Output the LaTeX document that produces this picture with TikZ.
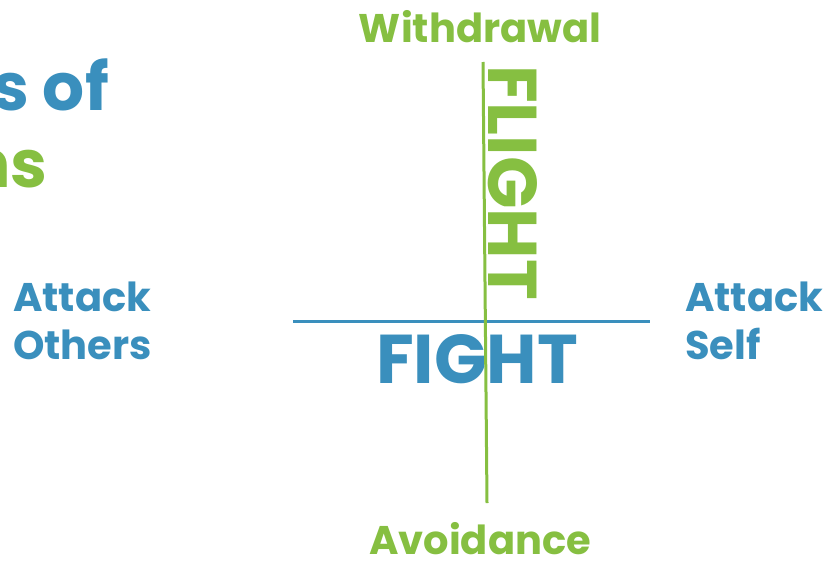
\documentclass[tikz,border=0pt]{standalone}
\usepackage{fontspec}
\setmainfont{Poppins}
\definecolor{fblue}{HTML}{3A8FBD}
\definecolor{fgreen}{HTML}{86BF41}
\tikzset{
  lbl/.style={inner sep=0pt, font=\bfseries\fontsize{40}{48}\selectfont},
  big/.style={inner sep=0pt, font=\bfseries\fontsize{69}{76}\selectfont},
  title/.style={inner sep=0pt, font=\bfseries\fontsize{66}{76}\selectfont},
  axis/.style={line width=3pt}
}
\begin{document}
\begin{tikzpicture}[x=1pt,y=-1pt]
\useasboundingbox (0,0) rectangle (829,565);
\clip (0,0) rectangle (829,565);
% cut-off title
\node[title, fblue, anchor=base east] (title1) at (109,110) {s of};
\node[title, fgreen, anchor=base east] (title2) at (48,187) {ns};
% axes labels
\node[lbl, fgreen, anchor=base] (withdrawal) at (480,42) {Withdrawal};
\node[lbl, fgreen, anchor=base] (avoidance) at (480,554) {Avoidance};
\node[lbl, fblue, anchor=north west, align=left] (others) at (13,282) {Attack\\Others};
\node[lbl, fblue, anchor=north west, align=left] (self) at (685,282) {Attack\\Self};
% axes
\coordinate (hl) at (293,321);
\coordinate (hr) at (650,321);
\coordinate (vt) at (483,62);
\coordinate (vb) at (487,503);
\draw[axis, fblue] (hl) -- (hr);
\node[big, fblue, anchor=base] (fight) at (477,383) {FIGHT};
\node[big, fgreen, anchor=base west, rotate=-90] (flight) at (488,65) {FLIGHT};
\draw[axis, fgreen] (vt) -- (vb);
\end{tikzpicture}
\end{document}
